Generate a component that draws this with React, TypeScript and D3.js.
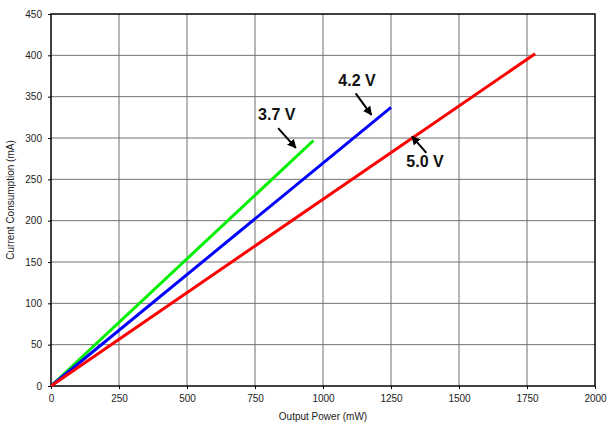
import React, { useEffect, useRef } from 'react';
import * as d3 from 'd3';

const xTicks = [0, 250, 500, 750, 1000, 1250, 1500, 1750, 2000];
const yTicks = [0, 50, 100, 150, 200, 250, 300, 350, 400, 450];

const seriesNames = ['3.7 V', '4.2 V', '5.0 V'];
const seriesColors = ['#00ee00', '#0000ff', '#ff0000'];
const power37 = [0, 965];
const current37 = [0, 297];
const power42 = [0, 1250];
const current42 = [0, 337];
const power50 = [0, 1780];
const current50 = [0, 402];

// label position (data coords) and arrow from/to (data coords)
const labelPos = [[830, 322], [1125, 363], [1375, 265]];
const arrowFrom = [[835, 312], [1120, 354], [1380, 282]];
const arrowTo = [[900, 288], [1178, 328], [1327, 302]];

const W = 607, H = 425;
const M = { left: 51, top: 14, right: 595, bottom: 386 };

export default function App() {
  const ref = useRef<SVGSVGElement>(null);

  useEffect(() => {
    const svg = d3.select(ref.current);
    svg.selectAll('*').remove();

    const x = d3.scaleLinear().domain([0, 2000]).range([M.left, M.right]);
    const y = d3.scaleLinear().domain([0, 450]).range([M.bottom, M.top]);

    svg.append('defs').append('marker')
      .attr('id', 'ah')
      .attr('viewBox', '0 0 10 10')
      .attr('refX', 9).attr('refY', 5)
      .attr('markerWidth', 4.5).attr('markerHeight', 4.5)
      .attr('orient', 'auto')
      .append('path').attr('d', 'M0,0 L10,5 L0,10 z').attr('fill', '#000');

    // grid
    svg.append('g').selectAll('line.v').data(xTicks.slice(1, -1)).enter()
      .append('line')
      .attr('x1', d => x(d)).attr('x2', d => x(d))
      .attr('y1', M.top).attr('y2', M.bottom)
      .attr('stroke', '#707070').attr('stroke-width', 1);
    svg.append('g').selectAll('line.h').data(yTicks.slice(1, -1)).enter()
      .append('line')
      .attr('x1', M.left).attr('x2', M.right)
      .attr('y1', d => y(d)).attr('y2', d => y(d))
      .attr('stroke', '#707070').attr('stroke-width', 1);

    svg.append('rect')
      .attr('x', M.left).attr('y', M.top)
      .attr('width', M.right - M.left).attr('height', M.bottom - M.top)
      .attr('fill', 'none').attr('stroke', '#000').attr('stroke-width', 1.5);

    // axes
    const xAxis = svg.append('g')
      .attr('transform', `translate(0,${M.bottom})`)
      .call(d3.axisBottom(x).tickValues(xTicks).tickSize(3).tickPadding(6).tickFormat(d3.format('d')));
    const yAxis = svg.append('g')
      .attr('transform', `translate(${M.left},0)`)
      .call(d3.axisLeft(y).tickValues(yTicks).tickSize(3).tickPadding(6).tickFormat(d3.format('d')));
    [xAxis, yAxis].forEach(a => {
      a.select('.domain').remove();
      a.selectAll('line').attr('stroke', '#000');
      a.selectAll('text').attr('font-family', 'Liberation Sans, Arial, sans-serif')
        .attr('font-size', 10).attr('fill', '#222');
    });

    svg.append('text')
      .attr('x', (M.left + M.right) / 2).attr('y', 420)
      .attr('text-anchor', 'middle')
      .attr('font-family', 'Liberation Sans, Arial, sans-serif')
      .attr('font-size', 10).attr('fill', '#222')
      .text('Output Power (mW)');
    svg.append('text')
      .attr('transform', `translate(14,${(M.top + M.bottom) / 2}) rotate(-90)`)
      .attr('text-anchor', 'middle')
      .attr('font-family', 'Liberation Sans, Arial, sans-serif')
      .attr('font-size', 10).attr('fill', '#222')
      .text('Current Consumption (mA)');

    // series
    const powers = [power37, power42, power50];
    const currents = [current37, current42, current50];
    const line = d3.line<[number, number]>().x(d => x(d[0])).y(d => y(d[1]));
    powers.forEach((p, i) => {
      const pts: [number, number][] = p.map((v, j) => [v, currents[i][j]]);
      svg.append('path')
        .attr('d', line(pts))
        .attr('fill', 'none')
        .attr('stroke', seriesColors[i])
        .attr('stroke-width', 3);
    });

    // annotations
    seriesNames.forEach((n, i) => {
      svg.append('text')
        .attr('x', x(labelPos[i][0])).attr('y', y(labelPos[i][1]))
        .attr('text-anchor', 'middle')
        .attr('font-family', 'Liberation Sans, Arial, sans-serif')
        .attr('font-weight', 'bold')
        .attr('font-size', 16)
        .attr('fill', '#111')
        .text(n);
      svg.append('line')
        .attr('x1', x(arrowFrom[i][0])).attr('y1', y(arrowFrom[i][1]))
        .attr('x2', x(arrowTo[i][0])).attr('y2', y(arrowTo[i][1]))
        .attr('stroke', '#000').attr('stroke-width', 2)
        .attr('marker-end', 'url(#ah)');
    });
  }, []);

  return (
    <svg ref={ref} width={W} height={H} style={{ position: 'absolute', left: 0, top: 0, background: '#fff' }} />
  );
}
